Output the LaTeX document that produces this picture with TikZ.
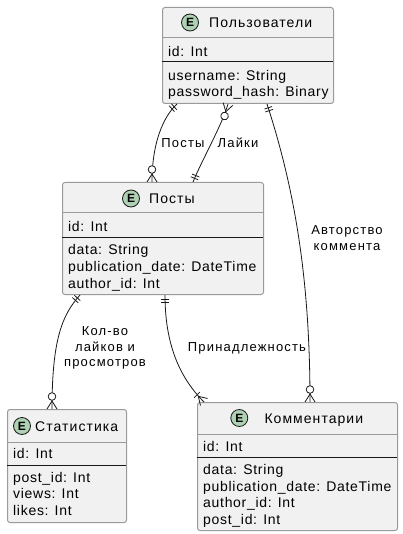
\documentclass[tikz,border=0pt]{standalone}
\usepackage{fontspec}
\setmainfont{Liberation Sans}
\newfontfamily\attrfont[LetterSpace=5]{Liberation Sans}
\newfontfamily\ttlfont[LetterSpace=7.5]{Liberation Sans}
\newfontfamily\lblfont[LetterSpace=9]{Liberation Sans}
\usetikzlibrary{decorations.markings}
\definecolor{boxfill}{HTML}{F1F1F1}
\definecolor{boxline}{HTML}{9A9A9A}
\definecolor{egreen}{HTML}{ADD1B2}
\definecolor{edark}{HTML}{181818}
\tikzset{
  entity/.style={draw=boxline, fill=boxfill, rounded corners=2.5pt, line width=1pt, inner sep=0pt, anchor=north west},
  hsep/.style={draw=boxline, line width=1pt},
  asep/.style={draw=edark, line width=1pt},
  attr/.style={anchor=base west, inner sep=0pt, font=\attrfont\fontsize{14}{16}\selectfont},
  ttl/.style={anchor=base west, inner sep=0pt, font=\ttlfont\fontsize{14}{16}\selectfont},
  ecirc/.style={circle, draw=edark, fill=egreen, line width=0.8pt, minimum size=17pt, inner sep=0pt, font=\bfseries\fontsize{12}{12}\selectfont},
  lbl/.style={inner sep=0pt, align=center, font=\lblfont\fontsize{13}{15.5}\selectfont},
  rel/.style={draw=edark, line width=0.8pt},
  one start/.style={postaction={decorate, decoration={markings, mark=at position 0 with {\draw[rel] (4,-4) -- (4,4) (7,-4) -- (7,4);}}}},
  one end/.style={postaction={decorate, decoration={markings, mark=at position 1 with {\draw[rel] (-4,-4) -- (-4,4) (-7,-4) -- (-7,4);}}}},
  zm start/.style={postaction={decorate, decoration={markings, mark=at position 0 with {\draw[rel] (0,-5) -- (8,0) -- (0,5); \draw[rel, fill=white] (12.5,0) circle[radius=3.8pt];}}}},
  zm end/.style={postaction={decorate, decoration={markings, mark=at position 1 with {\draw[rel] (0,-5) -- (-8,0) -- (0,5); \draw[rel, fill=white] (-12.5,0) circle[radius=3.8pt];}}}},
  om end/.style={postaction={decorate, decoration={markings, mark=at position 1 with {\draw[rel] (0,-5) -- (-8,0) -- (0,5); \draw[rel] (-10,-4) -- (-10,4);}}}},
}
\begin{document}
\begin{tikzpicture}[x=1pt, y=-1pt]
\useasboundingbox (0,0) rectangle (403,534);

% Пользователи
\node[entity, minimum width=171pt, minimum height=96pt] (U) at (162,7) {};
\draw[hsep] (162,38) -- (333,38);
\draw[asep] (162,62) -- (333,62);
\node[ecirc] (Ue) at (190,22.5) {E};
\node[ttl] (Ut) at (209,27.5) {Пользователи};
\node[attr] (U1) at (168,57) {id: Int};
\node[attr] (U2) at (168,80.5) {username: String};
\node[attr] (U3) at (168,97) {password\_hash: Binary};

% Посты
\node[entity, minimum width=201pt, minimum height=112pt] (P) at (62,182) {};
\draw[hsep] (62,213) -- (263,213);
\draw[asep] (62,237) -- (263,237);
\node[ecirc] (Pe) at (131,198.5) {E};
\node[ttl] (Pt) at (149,203.5) {Посты};
\node[attr] (P1) at (68,231) {id: Int};
\node[attr] (P2) at (68,254) {data: String};
\node[attr] (P3) at (68,271) {publication\_date: DateTime};
\node[attr] (P4) at (68,288) {author\_id: Int};

% Статистика
\node[entity, minimum width=119pt, minimum height=113pt] (S) at (7,409) {};
\draw[hsep] (7,442) -- (126,442);
\draw[asep] (7,465) -- (126,465);
\node[ecirc] (Se) at (22,426) {E};
\node[ttl] (St) at (35,431) {Статистика};
\node[attr] (S1) at (13,458) {id: Int};
\node[attr] (S2) at (13,482) {post\_id: Int};
\node[attr] (S3) at (13,498.5) {views: Int};
\node[attr] (S4) at (13,515) {likes: Int};

% Комментарии
\node[entity, minimum width=200pt, minimum height=128pt] (K) at (197,402) {};
\draw[hsep] (197,434) -- (397,434);
\draw[asep] (197,457) -- (397,457);
\node[ecirc] (Ke) at (239.3,418) {E};
\node[ttl] (Kt) at (264.3,423) {Комментарии};
\node[attr] (K1) at (203,451) {id: Int};
\node[attr] (K2) at (203,474) {data: String};
\node[attr] (K3) at (203,491) {publication\_date: DateTime};
\node[attr] (K4) at (203,507.5) {author\_id: Int};
\node[attr] (K5) at (203,524) {post\_id: Int};

% connector end points
\coordinate (Ua) at ([xshift=15pt]U.south west);
\coordinate (Ub) at ([xshift=66pt]U.south west);
\coordinate (Uc) at ([xshift=105pt]U.south west);
\coordinate (Pa) at ([xshift=90pt]P.north west);
\coordinate (Pb) at ([xshift=131pt]P.north west);
\coordinate (Pc) at ([xshift=18pt]P.south west);
\coordinate (Pd) at ([xshift=103pt]P.south west);
\coordinate (Sa) at ([xshift=45pt]S.north west);
\coordinate (Ka) at ([xshift=7pt]K.north west);
\coordinate (Kb) at ([xshift=113pt]K.north west);

% connectors
\draw[rel, one start, zm end] (Ua) .. controls (168,112) and (152,135) .. (Pa);
\draw[rel, zm start, one end] (Ub) .. controls (222,125) and (202,160) .. (Pb);
\draw[rel, one start, zm end] (Uc) .. controls (295,190) and (310,280) .. (Kb);
\draw[rel, one start, zm end] (Pc) .. controls (62,315) and (52,340) .. (Sa);
\draw[rel, one start, om end] (Pd) .. controls (165,345) and (180,378) .. (Ka);

% labels
\node[lbl] (L1) at (183,143) {Посты};
\node[lbl] (L2) at (238,143) {Лайки};
\node[lbl] (L3) at (347,238) {Авторство\\коммента};
\node[lbl] (L4) at (105,348) {Кол-во\\лайков и\\просмотров};
\node[lbl] (L5) at (247,348) {Принадлежность};
\end{tikzpicture}
\end{document}
